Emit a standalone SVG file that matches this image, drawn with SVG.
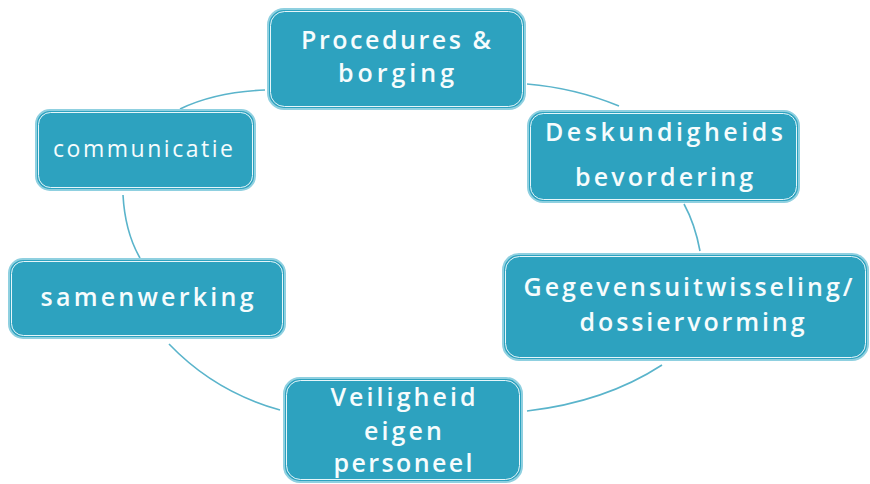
<svg xmlns="http://www.w3.org/2000/svg" width="870" height="484" viewBox="0 0 870 484">
<style>
.box{fill:#2da2bf;stroke:#8fd0e0;stroke-width:2}
.inner{fill:none;stroke:#e6f6fa;stroke-width:1}
.conn{fill:none;stroke:#5ab4cb;stroke-width:1.6}
text{font-family:"Open Sans","DejaVu Sans",sans-serif;fill:#f6fcfd;text-anchor:middle;font-size:25px;font-weight:600}
</style>
<rect width="870" height="484" fill="#ffffff"/>
<g id="connectors">
<path class="conn" d="M265,90 Q215,92 180,109"/>
<path class="conn" d="M527,84 Q575,88 619,106"/>
<path class="conn" d="M684,204 Q695,224 700,251"/>
<path class="conn" d="M662,365 Q605,402 527,411"/>
<path class="conn" d="M280,410 Q215,392 169,344"/>
<path class="conn" d="M140,258 Q125,232 123,195"/>
</g>
<g id="procedures">
<rect class="box" x="268" y="9" width="257" height="100" rx="16"/>
<rect class="inner" x="270.5" y="11.5" width="252" height="95" rx="14"/>
<text x="396" y="49" textLength="190" lengthAdjust="spacing">Procedures &amp;</text>
<text x="396" y="82" textLength="116" lengthAdjust="spacing">borging</text>
</g>
<g id="deskundigheid">
<rect class="box" x="528" y="111" width="271" height="91" rx="15"/>
<rect class="inner" x="530.5" y="113.5" width="266" height="86" rx="13"/>
<text x="664" y="141" textLength="238" lengthAdjust="spacing">Deskundigheids</text>
<text x="664" y="186" textLength="178" lengthAdjust="spacing">bevordering</text>
</g>
<g id="gegevens">
<rect class="box" x="503" y="254" width="365" height="106" rx="16"/>
<rect class="inner" x="505.5" y="256.5" width="360" height="101" rx="14"/>
<text x="688" y="296" textLength="329" lengthAdjust="spacing">Gegevensuitwisseling/</text>
<text x="692" y="331" textLength="225" lengthAdjust="spacing">dossiervorming</text>
</g>
<g id="veiligheid">
<rect class="box" x="284" y="378" width="238" height="104" rx="16"/>
<rect class="inner" x="286.5" y="380.5" width="233" height="99" rx="14"/>
<text x="403" y="406" textLength="145" lengthAdjust="spacing">Veiligheid</text>
<text x="403" y="440" textLength="78" lengthAdjust="spacing">eigen</text>
<text x="403" y="472" textLength="139" lengthAdjust="spacing">personeel</text>
</g>
<g id="samenwerking">
<rect class="box" x="9" y="259" width="276" height="79" rx="14"/>
<rect class="inner" x="11.5" y="261.5" width="271" height="74" rx="12"/>
<text x="147" y="306" textLength="213" lengthAdjust="spacing">samenwerking</text>
</g>
<g id="communicatie">
<rect class="box" x="36" y="110" width="219" height="80" rx="14"/>
<rect class="inner" x="38.5" y="112.5" width="214" height="75" rx="12"/>
<text x="143" y="157" style="font-size:23px;font-weight:500" textLength="180" lengthAdjust="spacing">communicatie</text>
</g>
</svg>
